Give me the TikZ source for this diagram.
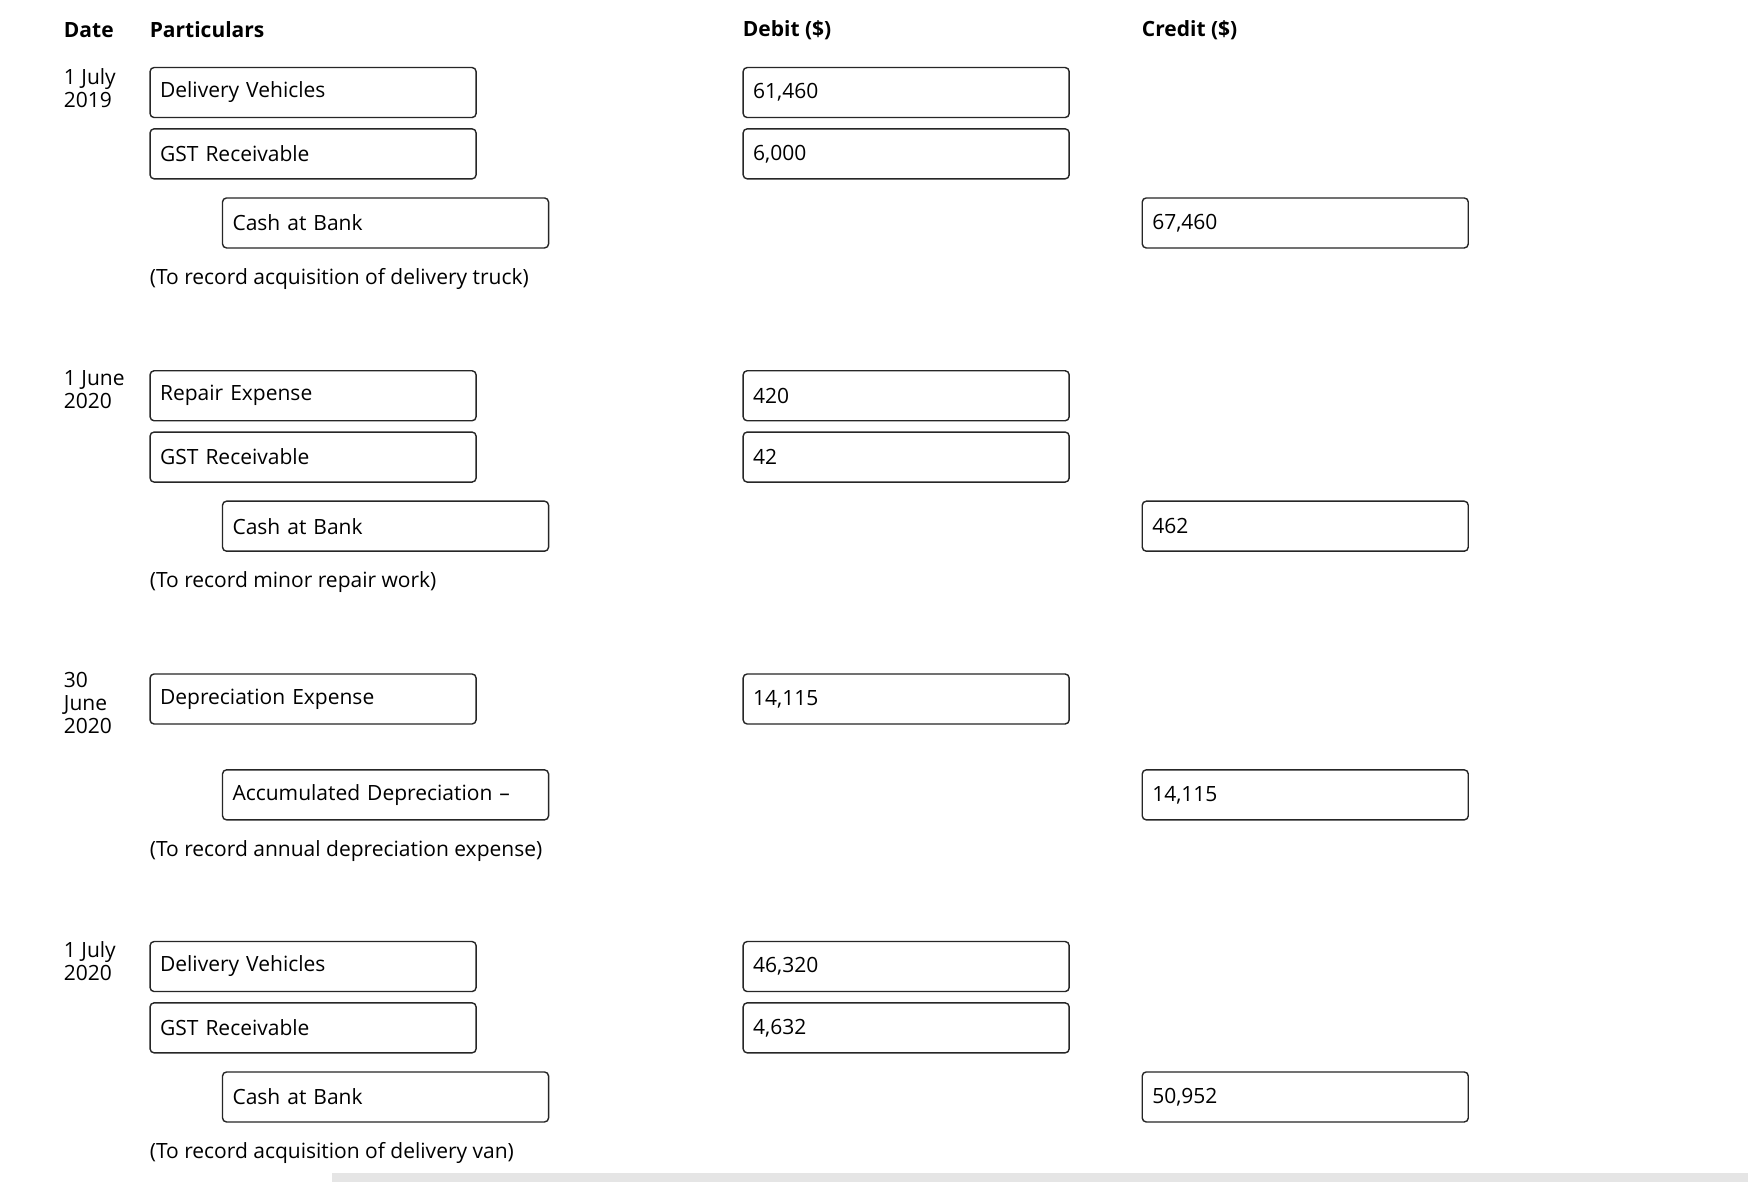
\documentclass[tikz,border=0pt]{standalone}
\usepackage{fontspec}
\setmainfont{Open Sans}
\begin{document}
\begin{tikzpicture}[x=0.5574pt,y=-0.5574pt,
  fbox/.style={draw=black!85,line width=0.7pt,rounded corners=2pt,anchor=west,minimum height=25pt,text width=153pt,inner xsep=5pt,align=left,font=\fontsize{10.5pt}{12pt}\selectfont},
  txt/.style={anchor=west,inner sep=0pt,font=\fontsize{10.5pt}{12pt}\selectfont},
  hd/.style={anchor=west,inner sep=0pt,font=\fontsize{10.5pt}{12pt}\selectfont\bfseries},
  dt/.style={anchor=north west,inner sep=0pt,align=left,font=\fontsize{10.5pt}{11.5pt}\selectfont}]
\useasboundingbox[fill=white] (0,0) rectangle (1568,1060);
\fill[black!10] (298,1052) rectangle (1568,1060);
\node[hd] (h1) at (57,27) {Date};
\node[hd] (h2) at (134,27) {Particulars};
\node[hd] (h3) at (666,27) {Debit (\$)};
\node[hd] (h4) at (1024,27) {Credit (\$)};
% entry 1
\node[dt] (d1) at (57,61) {1 July\\2019};
\node[fbox] (a1) at (134,83) {Delivery Vehicles};
\node[fbox] (a2) at (134,138) {GST Receivable};
\node[fbox] (a3) at (199,200) {Cash at Bank};
\node[fbox] (b1) at (666,83) {61,460};
\node[fbox] (b2) at (666,138) {6,000};
\node[fbox] (c1) at (1024,200) {67,460};
\node[txt] (n1) at (134,250) {(To record acquisition of delivery truck)};
% entry 2
\node[dt] (d2) at (57,332) {1 June\\2020};
\node[fbox] (a4) at (134,355) {Repair Expense};
\node[fbox] (a5) at (134,410) {GST Receivable};
\node[fbox] (a6) at (199,472) {Cash at Bank};
\node[fbox] (b3) at (666,355) {420};
\node[fbox] (b4) at (666,410) {42};
\node[fbox] (c2) at (1024,472) {462};
\node[txt] (n2) at (134,522) {(To record minor repair work)};
% entry 3
\node[dt] (d3) at (57,603) {30\\June\\2020};
\node[fbox] (a7) at (134,627) {Depreciation Expense};
\node[fbox] (a8) at (199,713) {Accumulated Depreciation –};
\node[fbox] (b5) at (666,627) {14,115};
\node[fbox] (c3) at (1024,713) {14,115};
\node[txt] (n3) at (134,763) {(To record annual depreciation expense)};
% entry 4
\node[dt] (d4) at (57,844) {1 July\\2020};
\node[fbox] (a9) at (134,867) {Delivery Vehicles};
\node[fbox] (a10) at (134,922) {GST Receivable};
\node[fbox] (a11) at (199,984) {Cash at Bank};
\node[fbox] (b6) at (666,867) {46,320};
\node[fbox] (b7) at (666,922) {4,632};
\node[fbox] (c4) at (1024,984) {50,952};
\node[txt] (n4) at (134,1034) {(To record acquisition of delivery van)};
\end{tikzpicture}
\end{document}
